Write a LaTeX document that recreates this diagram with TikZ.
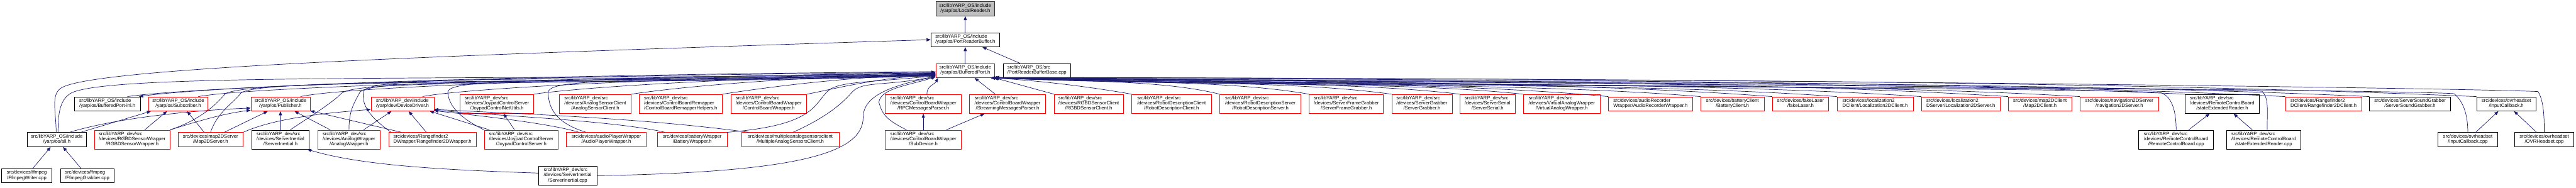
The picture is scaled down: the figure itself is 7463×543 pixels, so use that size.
\documentclass[tikz,border=0pt]{standalone}
\usepackage{fontspec}
\setmainfont{Liberation Sans}
\usetikzlibrary{arrows.meta,calc}
\definecolor{edgec}{RGB}{25,25,112}
\definecolor{grayfill}{RGB}{191,191,191}
\newcommand{\dxf}{\fontsize{14pt}{14.8pt}\selectfont}
\newcommand{\dxtwo}[2]{\begin{tabular}{@{}l@{}}#1\\\multicolumn{1}{@{}c@{}}{#2}\end{tabular}}
\newcommand{\dxthree}[3]{\begin{tabular}{@{}l@{}}#1\\#2\\\multicolumn{1}{@{}c@{}}{#3}\end{tabular}}
\newcommand{\cedge}[4]{\draw[e] (#1) .. controls ($(#1)+(#2)$) and ($(#4)+(#3)$) .. (#4);}
\newcommand{\wpedge}[7]{\draw[e] (#1) .. controls ($(#1)+(#2)$) and ($(#1)+(#3)+(#4)$) .. ($(#1)+(#3)$) .. controls ($(#1)+(#3)+(#5)$) and ($(#7)+(#6)$) .. (#7);}
\begin{document}
\begin{tikzpicture}[x=1pt,y=1pt,
  nd/.style={rectangle, draw, fill=white, inner sep=0pt, line width=1.3pt, font=\dxf, text=black},
  r2/.style={nd, draw=red, minimum height=41pt},
  r3/.style={nd, draw=red, minimum height=55pt},
  k2/.style={nd, draw=black, minimum height=41pt},
  k3/.style={nd, draw=black, minimum height=55pt},
  e/.style={draw=edgec, line width=1.3pt, -{Triangle[length=12pt,width=9pt]}}]
\fill[white] (0,0) rectangle (7463,-543);
\useasboundingbox (0,0) rectangle (7463,-543);

% top
\node[nd, fill=grayfill, draw=black!80, minimum width=171pt, minimum height=41pt] (LR) at (2796.5,-25.5) {\dxtwo{src/libYARP\_OS/include}{/yarp/os/LocalReader.h}};
\node[k2, minimum width=199pt] (PRB) at (2796.5,-115) {\dxtwo{src/libYARP\_OS/include}{/yarp/os/PortReaderBuffer.h}};
\node[r2, minimum width=171pt] (BP) at (2796.5,-204.5) {\dxtwo{src/libYARP\_OS/include}{/yarp/os/BufferedPort.h}};
\node[k2, minimum width=196pt] (PRBB) at (3004,-204.5) {\dxtwo{src/libYARP\_OS/src}{/PortReaderBufferBase.cpp}};

% row 3
\node[k2, minimum width=192pt] (BPinl) at (311,-301) {\dxtwo{src/libYARP\_OS/include}{/yarp/os/BufferedPort-inl.h}};
\node[r2, minimum width=171pt] (Sub) at (516.5,-301) {\dxtwo{src/libYARP\_OS/include}{/yarp/os/Subscriber.h}};
\node[r2, minimum width=171pt] (Pub) at (812.5,-301) {\dxtwo{src/libYARP\_OS/include}{/yarp/os/Publisher.h}};
\node[r2, minimum width=182pt] (DD) at (1166,-301) {\dxtwo{src/libYARP\_dev/include}{/yarp/dev/DeviceDriver.h}};
\node[r3, minimum width=213pt] (JNU) at (1439.5,-301) {\dxthree{src/libYARP\_dev/src}{/devices/JoypadControlServer}{/JoypadControlNetUtils.h}};
\node[r3, minimum width=207pt] (ASC) at (1724.5,-301) {\dxthree{src/libYARP\_dev/src}{/devices/AnalogSensorClient}{/AnalogSensorClient.h}};
\node[r3, minimum width=240pt] (CBRH) at (1972,-301) {\dxthree{src/libYARP\_dev/src}{/devices/ControlBoardRemapper}{/ControlBoardRemapperHelpers.h}};
\node[r3, minimum width=220pt] (CBW) at (2227,-301) {\dxthree{src/libYARP\_dev/src}{/devices/ControlBoardWrapper}{/ControlBoardWrapper.h}};
\node[r3, minimum width=220pt] (RPC) at (2675,-301) {\dxthree{src/libYARP\_dev/src}{/devices/ControlBoardWrapper}{/RPCMessagesParser.h}};
\node[r3, minimum width=220pt] (SMP) at (2919,-301) {\dxthree{src/libYARP\_dev/src}{/devices/ControlBoardWrapper}{/StreamingMessagesParser.h}};
\node[r3, minimum width=200pt] (RGBDC) at (3154,-301) {\dxthree{src/libYARP\_dev/src}{/devices/RGBDSensorClient}{/RGBDSensorClient.h}};
\node[r3, minimum width=230pt] (RDC) at (3394,-301) {\dxthree{src/libYARP\_dev/src}{/devices/RobotDescriptionClient}{/RobotDescriptionClient.h}};
\node[r3, minimum width=235pt] (RDS) at (3651.5,-301) {\dxthree{src/libYARP\_dev/src}{/devices/RobotDescriptionServer}{/RobotDescriptionServer.h}};
\node[r3, minimum width=215pt] (SFG) at (3900.5,-301) {\dxthree{src/libYARP\_dev/src}{/devices/ServerFrameGrabber}{/ServerFrameGrabber.h}};
\node[r3, minimum width=175pt] (SG) at (4119.5,-301) {\dxthree{src/libYARP\_dev/src}{/devices/ServerGrabber}{/ServerGrabber.h}};
\node[r3, minimum width=159pt] (SS) at (4309.5,-301) {\dxthree{src/libYARP\_dev/src}{/devices/ServerSerial}{/ServerSerial.h}};
\node[r3, minimum width=223pt] (VAW) at (4524.5,-301) {\dxthree{src/libYARP\_dev/src}{/devices/VirtualAnalogWrapper}{/VirtualAnalogWrapper.h}};
\node[r2, minimum width=243pt] (ARW) at (4781.5,-301) {\dxtwo{src/devices/audioRecorder}{Wrapper/AudioRecorderWrapper.h}};
\node[r2, minimum width=184pt] (BC) at (5019,-301) {\dxtwo{src/devices/batteryClient}{/BatteryClient.h}};
\node[r2, minimum width=163pt] (FL) at (5216.5,-301) {\dxtwo{src/devices/fakeLaser}{/fakeLaser.h}};
\node[r2, minimum width=221pt] (L2DC) at (5432.5,-301) {\dxtwo{src/devices/localization2}{DClient/Localization2DClient.h}};
\node[r2, minimum width=227pt] (L2DS) at (5680.5,-301) {\dxtwo{src/devices/localization2}{DServer/Localization2DServer.h}};
\node[r2, minimum width=184pt] (M2DC) at (5910,-301) {\dxtwo{src/devices/map2DClient}{/Map2DClient.h}};
\node[r2, minimum width=228pt] (N2DS) at (6140,-301) {\dxtwo{src/devices/navigation2DServer}{/navigation2DServer.h}};
\node[k3, minimum width=216pt] (SERh) at (6438,-301) {\dxthree{src/libYARP\_dev/src}{/devices/RemoteControlBoard}{/stateExtendedReader.h}};
\node[r2, minimum width=221pt] (R2DC) at (6731.5,-301) {\dxtwo{src/devices/Rangefinder2}{DClient/Rangefinder2DClient.h}};
\node[k2, minimum width=234pt] (SSG) at (6982,-301) {\dxtwo{src/devices/ServerSoundGrabber}{/ServerSoundGrabber.h}};
\node[k2, minimum width=172pt] (ICh) at (7261,-301) {\dxtwo{src/devices/ovrheadset}{/InputCallback.h}};

% row 4
\node[k2, minimum width=171pt] (allh) at (164.5,-404.5) {\dxtwo{src/libYARP\_OS/include}{/yarp/os/all.h}};
\node[r3, minimum width=218pt] (RGBDW) at (383,-404.5) {\dxthree{src/libYARP\_dev/src}{/devices/RGBDSensorWrapper}{/RGBDSensorWrapper.h}};
\node[r2, minimum width=188pt] (M2DS) at (610,-404.5) {\dxtwo{src/devices/map2DServer}{/Map2DServer.h}};
\node[k3, minimum width=167pt] (SIh) at (812.5,-404.5) {\dxthree{src/libYARP\_dev/src}{/devices/ServerInertial}{/ServerInertial.h}};
\node[r3, minimum width=180pt] (AW) at (1011,-404.5) {\dxthree{src/libYARP\_dev/src}{/devices/AnalogWrapper}{/AnalogWrapper.h}};
\node[r2, minimum width=254pt] (R2DW) at (1253,-404.5) {\dxtwo{src/devices/Rangefinder2}{DWrapper/Rangefinder2DWrapper.h}};
\node[r3, minimum width=214pt] (JCS) at (1510,-404.5) {\dxthree{src/libYARP\_dev/src}{/devices/JoypadControlServer}{/JoypadControlServer.h}};
\node[r2, minimum width=231pt] (APW) at (1756.5,-404.5) {\dxtwo{src/devices/audioPlayerWrapper}{/AudioPlayerWrapper.h}};
\node[r2, minimum width=201pt] (BW) at (2005.5,-404.5) {\dxtwo{src/devices/batteryWrapper}{/BatteryWrapper.h}};
\node[r2, minimum width=283pt] (MASC) at (2289.5,-404.5) {\dxtwo{src/devices/multipleanalogsensorsclient}{/MultipleAnalogSensorsClient.h}};
\node[r3, minimum width=220pt] (SubDev) at (2675,-404.5) {\dxthree{src/libYARP\_dev/src}{/devices/ControlBoardWrapper}{/SubDevice.h}};
\node[k3, minimum width=217pt] (RCB) at (6304.5,-404.5) {\dxthree{src/libYARP\_dev/src}{/devices/RemoteControlBoard}{/RemoteControlBoard.cpp}};
\node[k3, minimum width=216pt] (SERc) at (6558,-404.5) {\dxthree{src/libYARP\_dev/src}{/devices/RemoteControlBoard}{/stateExtendedReader.cpp}};
\node[k2, minimum width=173pt] (ICc) at (7149.5,-404.5) {\dxtwo{src/devices/ovrheadset}{/InputCallback.cpp}};
\node[k2, minimum width=172pt] (OVR) at (7371,-404.5) {\dxtwo{src/devices/ovrheadset}{/OVRHeadset.cpp}};

% row 5
\node[k2, minimum width=145pt] (FW) at (77.5,-509) {\dxtwo{src/devices/ffmpeg}{/FfmpegWriter.cpp}};
\node[k2, minimum width=155pt] (FG) at (252.5,-509) {\dxtwo{src/devices/ffmpeg}{/FfmpegGrabber.cpp}};
\node[k3, minimum width=169pt, minimum height=56pt] (SIc) at (1644.5,-509) {\dxthree{src/libYARP\_dev/src}{/devices/ServerInertial}{/ServerInertial.cpp}};

% ---- edges: top chain
\draw[e] (PRB) -- (LR);
\draw[e] (BP) -- (PRB);
\draw[e] (PRBB) -- (PRB);
\wpedge{allh.95}{0,60}{14,128}{-30,-20}{90,60}{-1400,-45}{PRB.west}

% ---- left group into BufferedPort
\wpedge{allh.80}{0,50}{48,118}{-45,-15}{150,50}{-1500,-15}{BP.188}
\cedge{BPinl.20}{150,22}{-1500,-14}{BP.183}
\cedge{BP.182}{-1500,-12}{150,22}{BPinl.13}
\cedge{Sub.20}{120,22}{-1400,-18}{BP.185}
\wpedge{RGBDW.north east}{90,30}{160,105}{-25,-30}{80,40}{-1300,-25}{BP.189}
\wpedge{M2DS.north}{20,60}{88,114}{-20,-28}{60,40}{-1300,-28}{BP.187}
\cedge{Pub.20}{100,22}{-1200,-18}{BP.184}
\wpedge{SIh.45}{60,40}{150,107}{-30,-30}{60,40}{-1100,-30}{BP.189}
\wpedge{AW.north}{0,60}{32,110}{-15,-30}{50,45}{-1000,-30}{BP.190}
\cedge{DD.20}{100,20}{-900,-16}{BP.185}
\wpedge{R2DW.170}{-70,50}{-80,118}{-5,-35}{10,50}{-1050,-20}{BP.188}
\cedge{JNU.north east}{100,15}{-700,-15}{BP.186}
\wpedge{JCS.north west}{-80,40}{-105,110}{2,-35}{5,45}{-1000,-20}{BP.189}
\cedge{ASC.north east}{100,15}{-500,-12}{BP.186}
\wpedge{APW.160}{-100,30}{-110,117}{0,-35}{8,45}{-800,-20}{BP.190}
\cedge{CBRH.north east}{100,15}{-300,-10}{BP.187}
\wpedge{BW.north east}{250,20}{290,118}{-40,-40}{30,30}{-200,-20}{BP.190}
\cedge{CBW.north east}{80,15}{-180,-10}{BP.188}
\wpedge{MASC.70}{90,40}{170,115}{-30,-35}{30,35}{-150,-30}{BP.191}
\wpedge{SIc.east}{600,10}{771,169}{0,-100}{0,50}{-160,-30}{BP.192}
\wpedge{SubDev.150}{-60,30}{-80,80}{10,-35}{5,40}{-80,-25}{BP.192}
\cedge{RPC.70}{0,25}{-10,-20}{BP.195}

% ---- right group into BufferedPort
\draw[e] (SMP) -- (BP);
\draw[e] (RGBDC.north west) -- (BP.-14);
\cedge{RDC.north west}{-100,18}{150,-8}{BP.-16}
\cedge{RDS.north west}{-160,40}{260,-10}{BP.-15}
\cedge{SFG.north west}{-230,40}{365,-14}{BP.-14}
\cedge{SG.north west}{-290,40}{460,-18}{BP.-16}
\cedge{SS.north west}{-340,40}{540,-22}{BP.-13}
\cedge{VAW.north west}{-380,40}{610,-26}{BP.-15}
\cedge{ARW.north west}{-445,42}{710,-16}{BP.-14}
\cedge{BC.north west}{-510,42}{820,-24}{BP.-16}
\cedge{FL.north west}{-560,42}{900,-12}{BP.-13}
\cedge{L2DC.north west}{-610,44}{980,-28}{BP.-15}
\cedge{L2DS.north west}{-670,44}{1075,-20}{BP.-14}
\cedge{M2DC.north west}{-735,46}{1175,-10}{BP.-16}
\cedge{N2DS.north west}{-785,46}{1260,-32}{BP.-13}
\cedge{SERh.north west}{-860,40}{1380,-18}{BP.-15}
\cedge{R2DC.north west}{-935,46}{1500,-6}{BP.-14}
\cedge{SSG.north west}{-1000,46}{1600,-14}{BP.-16}
\cedge{ICh.north west}{-1075,46}{1720,-4}{BP.-13}
\wpedge{RCB.north}{0,50}{-45,108}{35,-12}{-200,12}{1800,-28}{BP.-15}
\wpedge{SERc.70}{0,60}{-15,112}{20,-20}{-200,12}{1900,-34}{BP.-14}
\wpedge{ICc.north}{0,55}{-40,112}{25,-20}{-200,12}{2000,-20}{BP.-16}
\wpedge{OVR.north}{0,55}{-18,118}{15,-25}{-200,10}{2100,-2}{BP.-13}

% ---- local edges
\draw[e] (FW) -- (allh);
\draw[e] (FG) -- (allh);
\draw[e] (allh.17) -- (Sub.-165);
\draw[e] (RGBDW.38) -- (Sub.-147);
\draw[e] (M2DS.131) -- (Sub.-40);
\cedge{allh.30}{150,45}{-150,-6}{Pub.-172}
\cedge{RGBDW.north east}{80,25}{-80,-10}{Pub.-168}
\draw[e] (M2DS.28) -- (Pub.-150);
\draw[e] (SIh) -- (Pub);
\draw[e] (AW) -- (Pub);
\draw[e] (R2DW) -- (Pub);
\cedge{M2DS.north east}{100,45}{-100,-8}{DD.-170}
\draw[e] (AW) -- (DD);
\draw[e] (R2DW) -- (DD);
\draw[e] (JCS.163) -- (DD.-15);
\cedge{APW.165}{-100,30}{80,-10}{DD.-12}
\cedge{BW.165}{-150,35}{150,-15}{DD.-11}
\cedge{MASC.170}{-300,40}{300,-15}{DD.-10}
\draw[e] (JCS) -- (JNU);
\cedge{SIc.175}{-300,10}{150,-45}{SIh.-20}
\draw[e] (SubDev) -- (RPC);
\draw[e] (SubDev) -- (SMP);
\draw[e] (RCB) -- (SERh);
\draw[e] (SERc) -- (SERh);
\draw[e] (ICc) -- (ICh);
\draw[e] (OVR) -- (ICh);
\end{tikzpicture}
\end{document}
